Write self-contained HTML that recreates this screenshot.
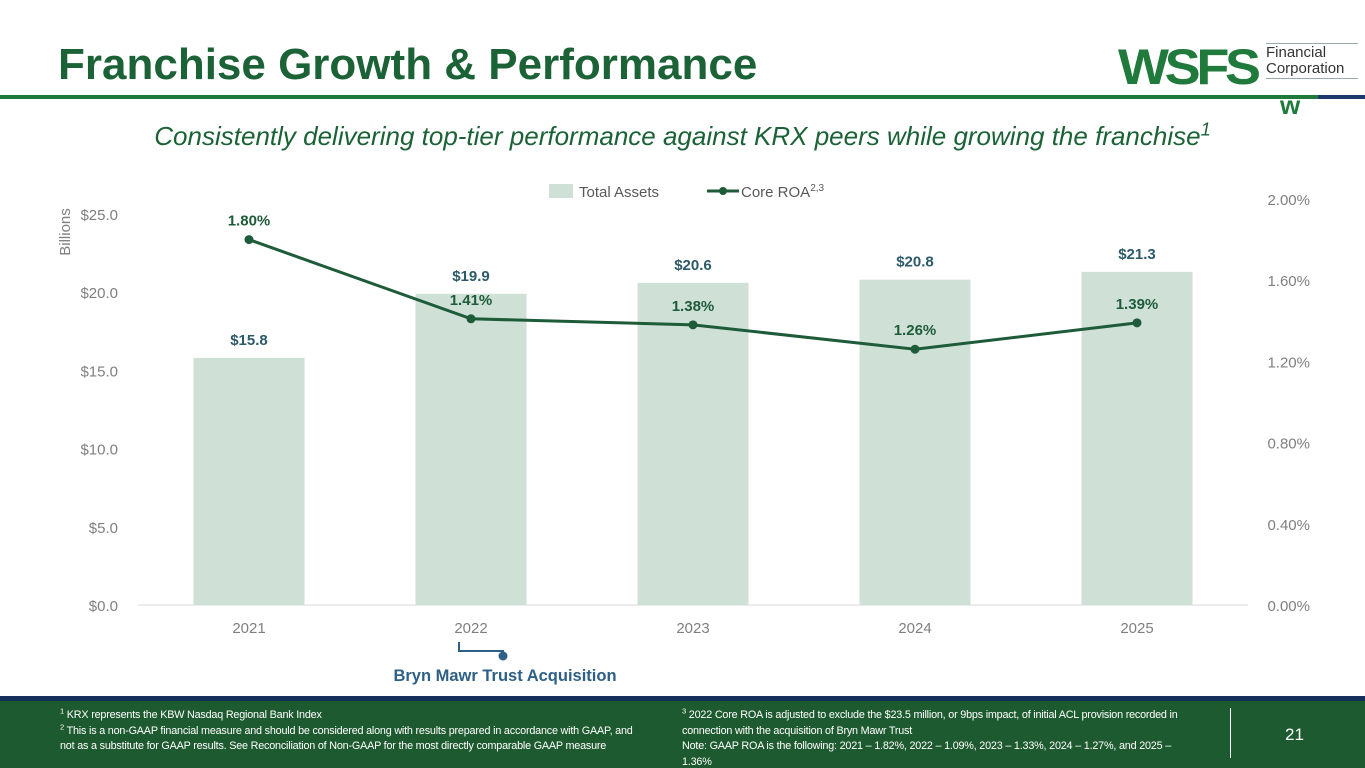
<!DOCTYPE html>
<html><head><meta charset="utf-8"><style>
html,body{margin:0;padding:0;width:1365px;height:768px;overflow:hidden;background:#fff;font-family:"Liberation Sans",sans-serif;position:relative}
.abs{position:absolute}
.title{left:58px;top:40px;font-family:"Liberation Sans",sans-serif;font-weight:bold;font-size:44px;color:#1b6236;letter-spacing:0px}
.sub{left:0;width:1365px;top:121px;text-align:center;font-style:italic;font-size:26px;color:#1b6236;}
.foot{left:60px;color:#fff;font-size:10.8px;line-height:15.6px;font-family:"Liberation Sans",sans-serif;letter-spacing:-0.2px}
sup{font-size:70%;line-height:0}
</style></head><body>
<div class="abs title">Franchise Growth &amp; Performance</div>
<div class="abs" style="left:0;top:95px;width:1318px;height:4px;background:#1f7a3c"></div>
<div class="abs" style="left:1318px;top:95px;width:47px;height:4px;background:#1d3a6a"></div>
<div class="abs" style="left:1118px;top:38px;width:240px;height:80px">
  <div class="abs" style="left:0;top:0;font-weight:900;font-size:50px;color:#1f7a3c;letter-spacing:-4px;transform:scaleX(1.08);transform-origin:left">WSFS</div>
  <div class="abs" style="left:148px;top:5px;width:92px;border-top:1px solid #9aa;border-bottom:1px solid #9aa;font-size:15px;line-height:16px;color:#333;padding:1px 0">Financial<br>Corporation</div>
  <div class="abs" style="left:162px;top:52px;font-weight:900;font-size:26px;color:#1f7a3c">w</div>
</div>
<div class="abs sub">Consistently delivering top-tier performance against KRX peers while growing the franchise<sup>1</sup></div>

<svg class="abs" style="left:0;top:0" width="1365" height="700" id="chart">
  <text x="70" y="232" transform="rotate(-90 70 232)" text-anchor="middle" font-size="15" fill="#7f7f7f">Billions</text>
  <g id="legend">
    <rect x="549" y="184" width="24" height="14" fill="#cfe0d7"/>
    <text x="579" y="197" font-size="15" fill="#595959">Total Assets</text>
    <line x1="707" y1="191" x2="739" y2="191" stroke="#1e5b39" stroke-width="3"/>
    <circle cx="723" cy="191" r="4" fill="#1e5b39"/>
    <text x="741" y="197" font-size="15" fill="#595959">Core ROA<tspan font-size="10" dy="-6">2,3</tspan></text>
  </g>
  <g id="plot"></g>
  <g>
    <polyline points="459,642 459,651 503,651 503,656" fill="none" stroke="#2e5f86" stroke-width="2"/>
    <circle cx="503" cy="656" r="4.5" fill="#2e5f86"/>
    <text x="505" y="681" text-anchor="middle" font-size="16.5" font-weight="bold" fill="#2e5f86">Bryn Mawr Trust Acquisition</text>
  </g>
</svg>

<div class="abs" style="left:0;top:696px;width:1365px;height:6px;background:#14305a"></div>
<div class="abs" style="left:0;top:701px;width:1365px;height:67px;background:#1e5a30">
  <div class="abs foot" style="top:7px;width:585px"><sup>1</sup> KRX represents the KBW Nasdaq Regional Bank Index<br><sup>2</sup> This is a non-GAAP financial measure and should be considered along with results prepared in accordance with GAAP, and not as a substitute for GAAP results. See Reconciliation of Non-GAAP for the most directly comparable GAAP measure</div>
  <div class="abs foot" style="left:682px;top:7px;width:520px"><sup>3</sup> 2022 Core ROA is adjusted to exclude the $23.5 million, or 9bps impact, of initial ACL provision recorded in connection with the acquisition of Bryn Mawr Trust<br>Note: GAAP ROA is the following: 2021 – 1.82%, 2022 – 1.09%, 2023 – 1.33%, 2024 – 1.27%, and 2025 – 1.36%</div>
  <div class="abs" style="left:1230px;top:7px;width:1px;height:50px;background:#fff"></div>
  <div class="abs" style="left:1285px;top:24px;color:#fff;font-size:17px">21</div>
</div>

<script>
const categories = ["2021","2022","2023","2024","2025"];
const assets = [15.8, 19.9, 20.6, 20.8, 21.3];
const assetLabels = ["$15.8","$19.9","$20.6","$20.8","$21.3"];
const roa = [1.80, 1.41, 1.38, 1.26, 1.39];
const roaLabels = ["1.80%","1.41%","1.38%","1.26%","1.39%"];
const leftTicks = [0,5,10,15,20,25];
const leftTickLabels = ["$0.0","$5.0","$10.0","$15.0","$20.0","$25.0"];
const rightTicks = [0,0.4,0.8,1.2,1.6,2.0];
const rightTickLabels = ["0.00%","0.40%","0.80%","1.20%","1.60%","2.00%"];

const NS="http://www.w3.org/2000/svg";
const g=document.getElementById('plot');
const x0=138, step=222, base=605;
const xC=i=>x0+step*(i+0.5);
const yL=v=>base-v*(391/25);
const yR=v=>base-v*(406/2);
function mk(t,a){const e=document.createElementNS(NS,t);for(const k in a)e.setAttribute(k,a[k]);g.appendChild(e);return e;}
function txt(x,y,s,a){const e=mk('text',Object.assign({x:x,y:y},a));e.textContent=s;return e;}

const ax=mk('line',{x1:x0,y1:base,x2:x0+step*5,y2:base,stroke:'#d9d9d9','stroke-width':1});


leftTicks.forEach((v,i)=>{
  const t=txt(118,yL(v)+6,leftTickLabels[i],{'text-anchor':'end','font-size':15,fill:'#7f7f7f'});
  
  
});
rightTicks.forEach((v,i)=>{
  const t=txt(1310,yR(v)+6,rightTickLabels[i],{'text-anchor':'end','font-size':15,fill:'#7f7f7f'});
  
  
});
categories.forEach((c,i)=>{
  const t=txt(xC(i),633,c,{'text-anchor':'middle','font-size':15,fill:'#7f7f7f'});
  
  
});
assets.forEach((v,i)=>{
  const r=mk('rect',{x:xC(i)-55.5,y:yL(v),width:111,height:base-yL(v),fill:'#cfe0d7'});
  
  
  const t=txt(xC(i),yL(v)-13,assetLabels[i],{'text-anchor':'middle','font-size':15,'font-weight':'bold',fill:'#2c5a6a'});
  
  
});
const pl=mk('polyline',{points:roa.map((v,i)=>xC(i)+','+yR(v)).join(' '),fill:'none',stroke:'#1e5b39','stroke-width':3});


roa.forEach((v,i)=>{
  const c=mk('circle',{cx:xC(i),cy:yR(v),r:4.5,fill:'#1e5b39'});
  
  
  const t=txt(xC(i),yR(v)-14,roaLabels[i],{'text-anchor':'middle','font-size':15,'font-weight':'bold',fill:'#1e5b39'});
  
  
});
</script>
</body></html>
